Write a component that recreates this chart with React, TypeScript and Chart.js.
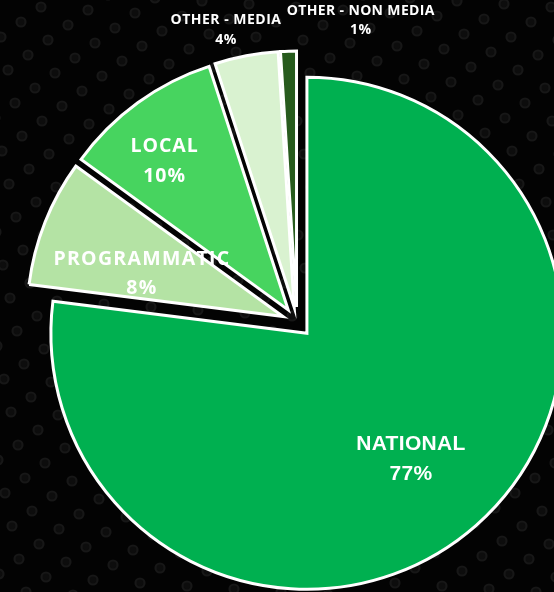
import React, { useEffect, useRef } from "react";
import { Chart, registerables } from "chart.js";

Chart.register(...registerables);

// ---- data ----
const categories = ["NATIONAL", "PROGRAMMATIC", "LOCAL", "OTHER - MEDIA", "OTHER - NON MEDIA"];
const shares = [77, 8, 10, 4, 1];

// ---- styles ----
const sliceColors = ["#00B050", "#B4E3A4", "#47D45F", "#D9F2D0", "#275B1D"];
const EXPLODE = 15;
const labelLayout = [
  { f: 0.637, dx: -4, dy: 4, lh: 30, ls: 0.3, font: "bold 21px 'Liberation Sans', Arial, sans-serif" },
  { f: 0.583, dx: -3, dy: 12, lh: 29, ls: 1.3, font: "bold 19.5px 'Open Sans', sans-serif" },
  { f: 0.758, dx: -10, dy: 9, lh: 30, ls: 1, font: "bold 19.5px 'Open Sans', sans-serif" },
  { f: 1.114, dx: -15, dy: 3, lh: 20, ls: 0.5, font: "bold 14px 'Open Sans', sans-serif" },
  { f: 1.11, dx: 73, dy: -2, lh: 19, ls: 0.35, font: "bold 14px 'Open Sans', sans-serif" },
];

const backgroundPlugin = {
  id: "dotBackground",
  beforeDraw(chart: any) {
    const { ctx, width, height } = chart;
    ctx.save();
    ctx.fillStyle = "#030303";
    ctx.fillRect(0, 0, width, height);
    ctx.strokeStyle = "#171717";
    ctx.fillStyle = "#0d0d0d";
    ctx.lineWidth = 2.2;
    for (let j = -10; j < 60; j++) {
      for (let i = -30; i < 30; i++) {
        const x = 41 + i * 47 - j * 20;
        const y = 7 + i * 3 + j * 15;
        if (x < -10 || x > width + 10 || y < -10 || y > height + 10) continue;
        ctx.beginPath();
        ctx.arc(x, y, 4.5, 0, Math.PI * 2);
        ctx.fill();
        ctx.stroke();
      }
    }
    ctx.restore();
  },
};

const explodePlugin = {
  id: "explodedSlices",
  beforeDatasetsDraw(chart: any) {
    const ctx = chart.ctx;
    const meta = chart.getDatasetMeta(0);
    meta.data.forEach((arc: any) => {
      const mid = (arc.startAngle + arc.endAngle) / 2;
      ctx.save();
      ctx.translate(Math.cos(mid) * EXPLODE, Math.sin(mid) * EXPLODE);
      arc.draw(ctx);
      ctx.restore();
    });
    return false;
  },
  afterDraw(chart: any) {
    const ctx = chart.ctx;
    const meta = chart.getDatasetMeta(0);
    meta.data.forEach((arc: any, i: number) => {
      const L = labelLayout[i];
      const mid = (arc.startAngle + arc.endAngle) / 2;
      const d = EXPLODE + L.f * arc.outerRadius;
      const cx = arc.x + Math.cos(mid) * d + L.dx + L.ls / 2;
      const cy = arc.y + Math.sin(mid) * d + L.dy;
      ctx.save();
      ctx.fillStyle = "#ffffff";
      ctx.font = L.font;
      (ctx as any).letterSpacing = L.ls + "px";
      ctx.textAlign = "center";
      ctx.textBaseline = "middle";
      ctx.fillText(categories[i], cx, cy - L.lh / 2);
      ctx.fillText(shares[i] + "%", cx, cy + L.lh / 2);
      ctx.restore();
    });
  },
};

export default function App() {
  const ref = useRef<HTMLCanvasElement | null>(null);
  useEffect(() => {
    if (!ref.current) return;
    const chart = new Chart(ref.current, {
      type: "pie",
      data: {
        labels: categories,
        datasets: [
          {
            data: shares,
            backgroundColor: sliceColors,
            borderColor: "#ffffff",
            borderWidth: 3,
            borderJoinStyle: "miter",
          } as any,
        ],
      },
      options: {
        responsive: false,
        animation: false,
        radius: 256,
        layout: { padding: 0 },
        plugins: {
          legend: { display: false },
          tooltip: { enabled: false },
        },
      } as any,
      plugins: [backgroundPlugin, explodePlugin],
    });
    return () => chart.destroy();
  }, []);
  return (
    <div
      style={{
        position: "fixed",
        left: 0,
        top: 0,
        width: 554,
        height: 592,
        overflow: "hidden",
        background: "#030303",
      }}
    >
      <canvas ref={ref} width={594} height={644} style={{ position: "absolute", left: 0, top: 0 }} />
    </div>
  );
}
